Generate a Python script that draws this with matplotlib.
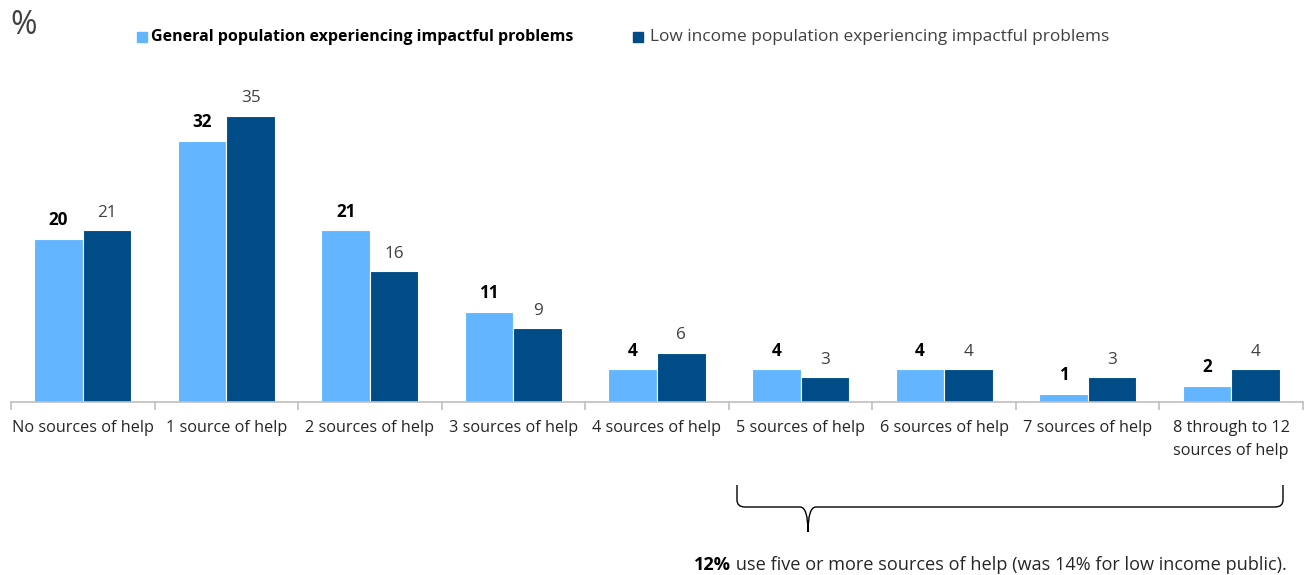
import matplotlib
matplotlib.use("Agg")
import matplotlib.pyplot as plt
import numpy as np
from matplotlib.path import Path
from matplotlib.patches import PathPatch, Rectangle

categories = ["No sources of help", "1 source of help", "2 sources of help",
              "3 sources of help", "4 sources of help", "5 sources of help",
              "6 sources of help", "7 sources of help",
              "8 through to 12\nsources of help"]
general = [20, 32, 21, 11, 4, 4, 4, 1, 2]
low_income = [21, 35, 16, 9, 6, 3, 4, 3, 4]
series_names = ["General population experiencing impactful problems",
                "Low income population experiencing impactful problems"]

LIGHT = "#63B5FF"
DARK = "#004C87"
FONT = "Open Sans"

W, H = 1312, 575
fig = plt.figure(figsize=(W / 100, H / 100), dpi=100)
plt.rcParams['font.family'] = [FONT, 'DejaVu Sans']


def fx(px):
    return px / W


def fy(py):
    return 1 - py / H


ymax = 40
ax = fig.add_axes([fx(11), fy(402), fx(1303) - fx(11), fy(402 - ymax * 8.17) - fy(402)])
x = np.arange(len(categories))
bw = 0.338
b1 = ax.bar(x - bw / 2, general, bw, color=LIGHT, edgecolor="white", linewidth=0.8)
b2 = ax.bar(x + bw / 2, low_income, bw, color=DARK, edgecolor="white", linewidth=0.8)
ax.set_xlim(-0.5, len(categories) - 0.5)
ax.set_ylim(0, ymax)

for sp in ["top", "right", "left"]:
    ax.spines[sp].set_visible(False)
ax.spines["bottom"].set_color("#BFBFBF")
ax.spines["bottom"].set_linewidth(1.2)
ax.set_yticks([])
ax.set_xticks(np.arange(len(categories) + 1) - 0.5)
ax.set_xticklabels([])
ax.tick_params(axis="x", length=6, color="#BFBFBF", width=1.2)
for i, c in enumerate(categories):
    ax.text(i, -2.2, c, ha="center", va="top", fontsize=11.7, color="#262626",
            linespacing=1.55)

for rect, v in zip(b1, general):
    ax.annotate(f"{v}", (rect.get_x() + rect.get_width() / 2, v), xytext=(0, 7),
                textcoords="offset points", ha="center", va="bottom",
                fontsize=12.3, fontweight="bold", color="black")
for rect, v in zip(b2, low_income):
    ax.annotate(f"{v}", (rect.get_x() + rect.get_width() / 2, v), xytext=(0, 7),
                textcoords="offset points", ha="center", va="bottom",
                fontsize=12.3, color="#404040")

# axis unit
fig.text(fx(10), fy(26), "%", fontsize=23, color="#404040", ha="left", va="center")

# legend
for mx, tx, name, col, wt, fs in [(137, 151, series_names[0], LIGHT, "bold", 11.5),
                                  (633, 650, series_names[1], DARK, "normal", 12.4)]:
    fig.patches.append(Rectangle((fx(mx), fy(42)), fx(10), fy(32) - fy(42),
                                 transform=fig.transFigure, color=col))
    fig.text(fx(tx), fy(37), name, fontsize=fs, fontweight=wt,
             color="black" if wt == "bold" else "#404040", ha="left", va="center")

# brace spanning the five-or-more groups
pts = [(737, 485), (737, 500), (737, 507), (745, 507), (800, 507), (808, 507),
       (808, 532), (808, 507), (816, 507), (1275, 507), (1283, 507), (1283, 500),
       (1283, 485)]
codes = [Path.MOVETO, Path.LINETO, Path.CURVE3, Path.CURVE3, Path.LINETO,
         Path.CURVE3, Path.CURVE3, Path.CURVE3, Path.CURVE3, Path.LINETO,
         Path.CURVE3, Path.CURVE3, Path.LINETO]
path = Path([(fx(a), fy(b)) for a, b in pts], codes)
fig.patches.append(PathPatch(path, transform=fig.transFigure, fill=False,
                             edgecolor="black", linewidth=1.0))

note = fig.text(fx(1287), fy(565), " use five or more sources of help (was 14% for low income public).",
                fontsize=13.05, color="#262626", ha="right", va="center")
fig.canvas.draw()
bb = note.get_window_extent()
fig.text(bb.x0 / W, fy(565), "12%", fontsize=13.05, fontweight="bold", color="black",
         ha="right", va="center")

fig.savefig("out.png", dpi=100)
